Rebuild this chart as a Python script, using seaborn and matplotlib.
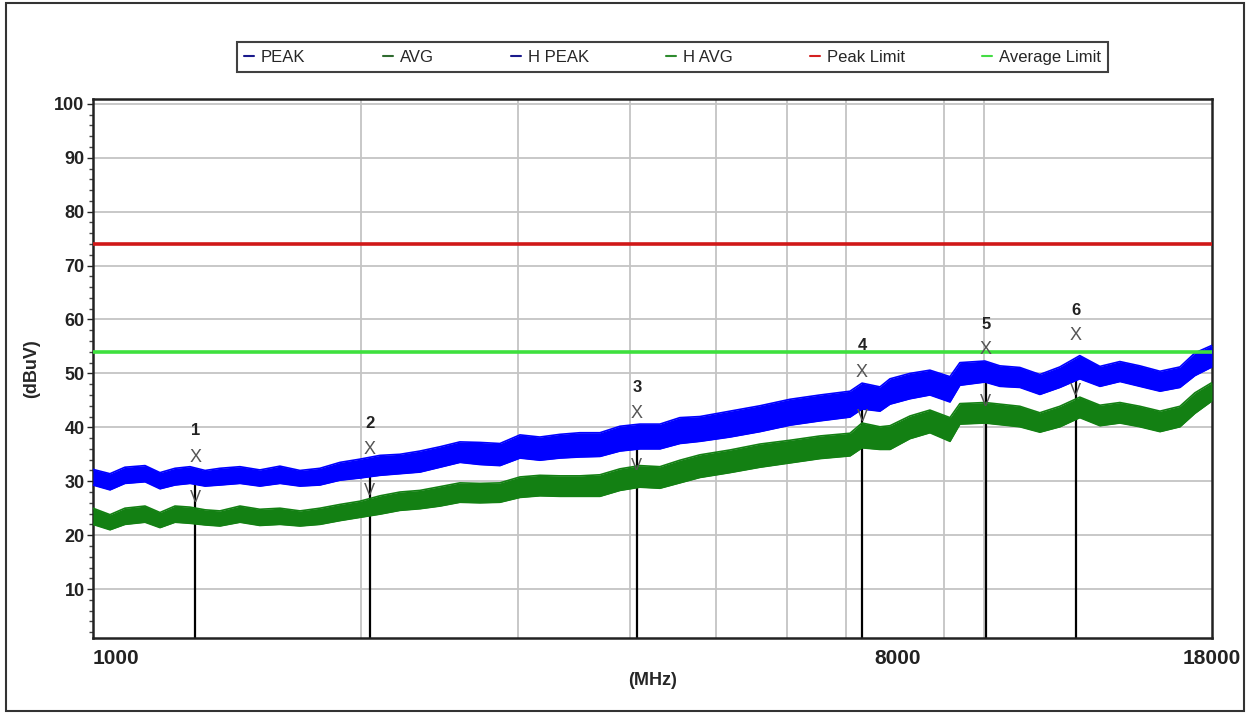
import numpy as np
import matplotlib
matplotlib.use("Agg")
import matplotlib.pyplot as plt
from matplotlib.lines import Line2D
from matplotlib.patches import Rectangle
import seaborn as sns

sns.set_style("white")
plt.rcParams["font.family"] = ["Liberation Sans", "DejaVu Sans"]

# frequency points (MHz)
freq = [1000, 1045, 1086, 1144, 1189, 1236, 1285, 1336, 1388, 1462,
        1539, 1621, 1707, 1797, 1893, 1993, 2099, 2210, 2327, 2451,
        2580, 2717, 2861, 3013, 3172, 3341, 3518, 3704, 3901, 4107,
        4325, 4554, 4796, 5183, 5601, 6052, 6540, 7067, 7290, 7636,
        7836, 8250, 8687, 9149, 9386, 10013, 10409, 10960, 11540, 12152,
        12794, 13477, 14191, 14944, 15738, 16571, 17224, 18000]

# H PEAK trace band (upper / lower edge, dBuV)
peak_hi = [32.2, 31.4, 32.6, 32.9, 31.6, 32.4, 32.7, 32.0, 32.4, 32.7,
           32.1, 32.8, 32.0, 32.4, 33.5, 34.1, 34.8, 35.0, 35.6, 36.4,
           37.3, 37.2, 37.0, 38.6, 38.2, 38.7, 39.0, 39.0, 40.2, 40.6,
           40.6, 41.8, 42.0, 43.0, 44.0, 45.2, 46.0, 46.7, 48.2, 47.5,
           49.0, 50.0, 50.6, 49.4, 52.0, 52.3, 51.4, 51.1, 49.8, 51.2,
           53.3, 51.3, 52.2, 51.4, 50.4, 51.2, 53.8, 55.2]
peak_lo = [29.3, 28.4, 29.6, 29.9, 28.6, 29.3, 29.6, 29.1, 29.3, 29.6,
           29.1, 29.6, 29.1, 29.3, 30.2, 30.6, 31.1, 31.4, 31.7, 32.6,
           33.5, 33.1, 32.9, 34.3, 33.9, 34.3, 34.5, 34.6, 35.6, 36.0,
           36.0, 37.0, 37.4, 38.2, 39.2, 40.4, 41.2, 41.9, 43.4, 43.0,
           44.3, 45.3, 46.0, 44.7, 47.8, 48.4, 47.6, 47.4, 46.1, 47.4,
           49.0, 47.6, 48.5, 47.6, 46.7, 47.4, 49.6, 51.2]

# H AVG trace band
avg_hi = [25.0, 23.8, 25.0, 25.4, 24.2, 25.4, 25.2, 24.7, 24.5, 25.4,
          24.8, 25.0, 24.5, 25.0, 25.7, 26.3, 27.3, 28.0, 28.3, 29.0,
          29.7, 29.6, 29.7, 30.8, 31.1, 31.0, 31.0, 31.2, 32.3, 32.9,
          32.7, 33.9, 34.9, 35.8, 36.9, 37.6, 38.4, 38.9, 40.8, 40.1,
          40.3, 42.1, 43.2, 41.8, 44.4, 44.6, 44.3, 43.9, 42.7, 43.9,
          45.6, 44.1, 44.6, 43.9, 43.0, 43.9, 46.4, 48.3]
avg_lo = [22.0, 21.0, 22.0, 22.4, 21.4, 22.4, 22.2, 21.9, 21.7, 22.4,
          21.8, 22.0, 21.7, 22.0, 22.7, 23.3, 23.9, 24.6, 24.9, 25.4,
          26.1, 26.0, 26.1, 27.0, 27.3, 27.2, 27.2, 27.2, 28.3, 28.9,
          28.7, 29.7, 30.7, 31.6, 32.6, 33.4, 34.2, 34.7, 36.2, 35.9,
          35.9, 37.9, 39.0, 37.4, 40.6, 40.8, 40.5, 40.1, 39.1, 40.1,
          41.8, 40.3, 40.8, 40.1, 39.2, 40.1, 42.6, 44.9]

peak_limit = 74
avg_limit = 54

# markers
mk_freq = [1303, 2045, 4076, 7290, 10040, 12665]
mk_top = [30.5, 32.0, 37.0, 45.5, 50.0, 51.0]
mk_v = [27.0, 28.3, 33.0, 42.0, 44.8, 46.9]
mk_x = [34.4, 35.9, 42.6, 50.1, 54.4, 57.0]
mk_num = [39.4, 40.7, 47.4, 55.1, 59.0, 61.6]
mk_label = ["1", "2", "3", "4", "5", "6"]

x_ticks = [1000, 8000, 18000]
x_grid = [2000, 3000, 4000, 5000, 6000, 7000, 8000, 9000, 10000]
y_ticks = [10, 20, 30, 40, 50, 60, 70, 80, 90, 100]

legend_labels = ["PEAK", "AVG", "H PEAK", "H AVG", "Peak Limit", "Average Limit"]
legend_colors = ["#1a1a8c", "#2f6b2f", "#1a1a8c", "#2e8b2e", "#d42020", "#44dd44"]

BLUE = "#0000ff"
GREEN = "#138013"

fig = plt.figure(figsize=(12.51, 7.13), dpi=100)
ax = fig.add_axes([0.0743, 0.1052, 0.8945, 0.7560])

# marker lines under the traces
ax.vlines(mk_freq, 0, mk_top, color="black", lw=1.6, zorder=2)

ax.fill_between(freq, avg_lo, avg_hi, color=GREEN, lw=0, zorder=3)
sns.lineplot(x=freq, y=avg_hi, ax=ax, color=GREEN, lw=1.2, zorder=3)
sns.lineplot(x=freq, y=avg_lo, ax=ax, color=GREEN, lw=1.2, zorder=3)
ax.fill_between(freq, peak_lo, peak_hi, color=BLUE, lw=0, zorder=4)
sns.lineplot(x=freq, y=peak_hi, ax=ax, color=BLUE, lw=1.2, zorder=4)
sns.lineplot(x=freq, y=peak_lo, ax=ax, color=BLUE, lw=1.2, zorder=4)

ax.axhline(peak_limit, color="#d01818", lw=2.6, zorder=5)
ax.axhline(avg_limit, color="#3ee03e", lw=2.6, zorder=5)

for f, v, xv, nv, lab in zip(mk_freq, mk_v, mk_x, mk_num, mk_label):
    ax.text(f, v, "V", ha="center", va="center", fontsize=12,
            color="#555555", zorder=6)
    ax.text(f, xv, "X", ha="center", va="center", fontsize=13,
            color="#555555", zorder=6)
    ax.text(f, nv, lab, ha="center", va="center", fontsize=12,
            fontweight="bold", color="#222222", zorder=6)

ax.set_xscale("log")
ax.set_xlim(1000, 18000)
ax.set_ylim(0.93, 100.9)

ax.set_xticks(x_ticks)
ax.set_xticklabels([str(t) for t in x_ticks], fontsize=15, fontweight="bold")
ax.set_xticks(x_grid, minor=True)
ax.xaxis.set_minor_formatter(plt.NullFormatter())
ax.tick_params(axis="x", which="both", length=0, pad=8, colors="#222222")
ax.get_xticklabels()[0].set_ha("left")

ax.set_yticks(y_ticks)
ax.set_yticklabels([str(t) for t in y_ticks], fontsize=13, fontweight="bold")
ax.set_yticks(np.arange(2, 101, 2), minor=True)
ax.tick_params(axis="y", which="major", direction="out", length=4, width=1,
               pad=2, left=True, colors="#222222")
ax.tick_params(axis="y", which="minor", direction="out", length=3, width=1,
               left=True, color="#444444")

ax.grid(False)
ax.grid(True, which="minor", axis="x", color="#c4c4c4", lw=1.3, zorder=0)
ax.grid(True, which="major", axis="y", color="#c4c4c4", lw=1.3, zorder=0)
ax.set_axisbelow(True)

for s in ax.spines.values():
    s.set_color("#222222")
    s.set_linewidth(1.8)

ax.set_xlabel("(MHz)", fontsize=13, fontweight="bold", labelpad=3)
ax.set_ylabel("(dBuV)", fontsize=13, fontweight="bold", labelpad=10)

handles = [Line2D([0], [0], color=c, lw=1.5) for c in legend_colors]
leg = fig.legend(handles, legend_labels, loc="lower left",
                 bbox_to_anchor=(0.1894, 0.899, 0.6963, 0.0477), mode="expand",
                 ncol=6, frameon=True, fancybox=False, edgecolor="#111111",
                 handlelength=0.6, handletextpad=0.4, borderaxespad=0,
                 borderpad=0.45,
                 prop={"family": ["Liberation Sans Narrow", "Liberation Sans"],
                       "size": 12})
leg.get_frame().set_linewidth(1.5)

fig.patches.append(Rectangle((0.0048, 0.0028), 0.9896, 0.9930,
                             transform=fig.transFigure, fill=False,
                             edgecolor="#333333", lw=1.5))

fig.savefig("out.png", dpi=100, facecolor="white")
